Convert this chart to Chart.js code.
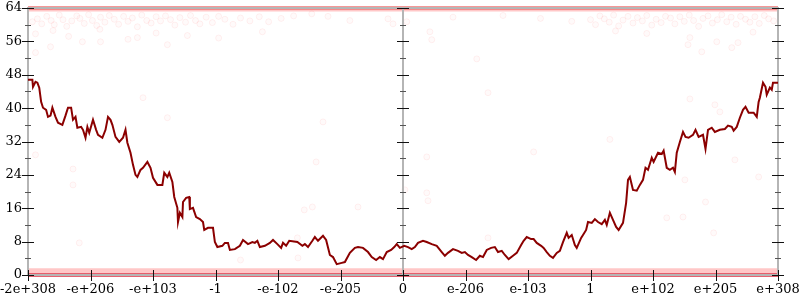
<!DOCTYPE html>
<html><head><meta charset="utf-8">
<script src="https://cdn.jsdelivr.net/npm/chart.js@4/dist/chart.umd.min.js"></script>
<style>html,body{margin:0;padding:0;background:#fff}#wrap{width:800px;height:300px}</style>
</head><body><div id="wrap"><canvas id="c" width="800" height="300"></canvas></div>
<script>
// ---- data ----
const xTickValues = [-6,-5,-4,-3,-2,-1,0,1,2,3,4,5,6];
const xTickLabels = ['-2e+308','-e+206','-e+103','-1','-e-102','-e-205','0','e-206','e-103','1','e+102','e+205','e+308'];
const yMajorTicks = [0,8,16,24,32,40,48,56,64];
const yMinorTicks = [4,12,20,28,36,44,52,60];

const lineX = [-6.00,-5.93,-5.92,-5.88,-5.85,-5.82,-5.79,-5.76,-5.71,-5.68,-5.64,-5.61,-5.56,-5.52,-5.45,-5.40,-5.36,-5.31,-5.28,-5.24,
 -5.21,-5.15,-5.12,-5.08,-5.05,-5.02,-4.96,-4.91,-4.88,-4.81,-4.76,-4.72,-4.68,-4.65,-4.60,-4.54,-4.48,-4.44,-4.41,-4.36,
 -4.32,-4.28,-4.25,-4.20,-4.16,-4.09,-4.04,-4.00,-3.93,-3.85,-3.82,-3.77,-3.74,-3.69,-3.66,-3.61,-3.60,-3.57,-3.53,-3.52,
 -3.47,-3.42,-3.41,-3.36,-3.31,-3.25,-3.20,-3.18,-3.12,-3.04,-3.01,-2.97,-2.89,-2.85,-2.80,-2.77,-2.69,-2.61,-2.56,-2.48,
 -2.41,-2.37,-2.33,-2.29,-2.21,-2.13,-2.08,-2.01,-1.95,-1.92,-1.87,-1.82,-1.69,-1.61,-1.57,-1.52,-1.45,-1.41,-1.36,-1.28,
 -1.23,-1.17,-1.12,-1.06,-0.98,-0.93,-0.85,-0.77,-0.72,-0.64,-0.56,-0.50,-0.43,-0.37,-0.32,-0.26,-0.19,-0.14,-0.10,-0.05,
 0.02,0.08,0.14,0.19,0.24,0.32,0.38,0.46,0.54,0.62,0.67,0.72,0.80,0.88,0.94,0.99,1.04,1.10,1.17,1.23,
 1.28,1.34,1.41,1.47,1.52,1.58,1.63,1.69,1.76,1.82,1.89,1.93,1.98,2.05,2.09,2.14,2.21,2.25,2.30,2.35,
 2.40,2.46,2.51,2.56,2.62,2.65,2.70,2.75,2.78,2.85,2.88,2.93,2.96,3.02,3.07,3.12,3.18,3.23,3.26,3.31,
 3.36,3.41,3.45,3.52,3.57,3.60,3.63,3.68,3.74,3.79,3.84,3.88,3.92,3.98,4.01,4.08,4.14,4.17,4.22,4.27,
 4.32,4.35,4.38,4.43,4.48,4.52,4.57,4.64,4.68,4.73,4.80,4.84,4.88,4.94,4.99,5.07,5.15,5.20,5.26,5.29,
 5.34,5.39,5.44,5.48,5.53,5.61,5.66,5.69,5.71,5.76,5.80,5.82,5.87,5.90,5.92,6.00];
const lineY = [46.8,46.8,45.1,46.3,46.1,44.9,41.5,40.1,39.6,37.9,38.2,40.1,37.9,36.5,36.0,38.2,40.1,40.1,37.2,37.9,
 35.3,35.5,34.8,32.9,35.5,34.1,37.2,34.8,33.6,32.9,34.8,37.9,37.2,36.0,33.1,31.9,32.9,34.8,31.7,29.3,
 26.4,24.0,23.5,25.2,25.7,27.1,25.7,23.3,21.6,21.6,24.5,23.5,24.5,22.3,18.7,16.1,12.7,14.9,13.9,17.5,
 18.5,18.7,15.8,16.1,13.9,13.4,12.7,10.8,11.3,11.3,7.9,6.7,7.0,7.7,7.7,6.0,6.2,7.0,8.4,7.4,
 7.9,7.7,8.2,6.7,7.0,7.7,8.4,7.4,6.5,7.7,7.0,8.2,7.9,7.0,7.4,6.7,8.2,9.1,8.2,9.4,
 8.4,4.8,4.3,2.6,2.9,3.1,5.3,6.5,6.7,6.5,5.5,4.3,3.6,4.3,3.8,5.5,6.0,6.7,7.4,6.5,
 7.0,6.7,6.2,6.7,7.7,8.2,7.9,7.4,7.0,5.5,4.6,5.3,6.2,5.8,5.3,5.5,4.8,4.3,3.6,4.6,
 4.3,6.0,6.5,6.7,5.5,5.8,4.8,3.8,4.6,5.3,7.2,8.2,9.1,8.6,8.6,7.7,7.0,6.5,5.5,4.6,
 4.1,5.3,5.8,7.9,10.1,8.9,9.6,7.2,6.5,8.9,9.6,10.8,12.7,12.5,13.4,12.7,12.2,13.2,12.0,14.9,
 13.2,11.5,10.8,12.5,17.3,22.8,23.5,20.4,20.2,21.6,22.8,25.7,25.2,28.1,27.1,29.3,29.0,29.8,25.7,25.2,
 25.7,24.7,29.3,31.9,34.3,33.1,32.9,33.6,34.8,33.1,33.6,30.2,34.8,35.3,34.3,34.8,35.0,35.8,35.5,34.6,
 35.5,37.7,39.6,40.3,38.9,38.9,37.9,41.5,42.5,46.1,45.1,43.2,44.9,44.4,46.1,46.1];

// faint sample points
const sampleX = [-5.93,-5.85,-5.78,-5.70,-5.63,-5.58,-5.50,-5.44,-5.38,-5.30,-5.22,-5.17,-5.10,-5.03,-4.97,-4.90,-4.84,-4.77,-4.70,-4.62,
 -4.55,-4.47,-4.40,-4.33,-4.25,-4.18,-4.10,-4.03,-3.95,-3.88,-3.80,-3.72,-3.65,-3.57,-3.48,-3.40,-3.32,-3.25,-3.15,-3.05,
 -2.95,-2.85,-2.72,-2.60,-2.45,-2.30,-2.15,-1.95,-1.75,-5.88,-5.60,-5.35,-4.85,-4.40,-3.95,-3.45,-2.95,-2.25,-5.13,-4.84,
 -5.64,-5.88,-3.77,-4.25,-1.46,-0.85,-0.24,-0.16,0.06,0.43,0.46,1.18,1.36,-1.20,0.80,1.60,2.20,2.70,
 3.00,3.08,3.15,3.22,3.30,3.37,3.45,3.52,3.60,3.68,3.75,3.83,3.90,3.98,4.05,4.13,4.20,4.28,4.35,4.43,
 4.50,4.58,4.65,4.73,4.80,4.88,4.95,5.03,5.10,5.18,5.25,5.33,5.40,5.48,5.55,5.63,5.70,5.78,5.85,5.93,
 4.56,4.78,5.02,5.36,5.26,4.59,3.40,3.90,5.60,
 -4.16,-3.77,-5.88,-5.28,-5.28,-1.28,-1.39,-1.58,-1.45,-0.72,-1.69,-1.68,-2.60,-5.18,0.38,0.38,0.40,2.09,3.31,1.36,
 0.03,4.99,5.07,5.31,4.51,5.69,4.59,4.84,4.22,4.48,4.97];
const sampleY = [60.7,61.4,60.2,62.0,61.0,60.0,62.3,61.2,59.6,60.9,62.1,61.5,60.3,62.4,61.0,59.8,61.8,60.6,62.2,61.3,
 60.1,62.0,60.8,61.6,59.5,62.3,61.0,60.4,61.9,60.9,62.1,61.2,59.9,61.7,60.6,62.2,61.0,60.2,61.8,60.5,
 62.0,61.3,60.1,61.6,60.9,61.9,60.7,61.5,62.1,57.8,58.6,57.2,58.9,56.5,58.0,57.4,56.8,58.3,55.9,55.9,
 54.7,53.3,55.2,56.9,62.6,61.0,61.4,60.2,60.7,58.3,56.4,51.8,43.7,62.0,61.8,62.2,61.5,60.8,
 61.2,60.0,62.1,61.4,60.6,62.3,59.7,61.1,62.0,60.4,61.7,60.9,62.2,59.9,61.3,60.5,62.0,61.6,60.2,61.9,
 60.8,62.3,61.0,59.6,61.5,62.1,60.4,61.2,62.4,60.7,61.8,60.1,62.0,61.3,60.6,61.9,60.3,62.2,61.4,60.9,
 55.2,53.5,55.9,55.7,54.5,56.9,58.5,57.9,58.2,
 42.5,37.7,28.8,25.4,21.6,36.7,27.1,15.6,16.3,16.3,8.9,4.1,3.6,7.7,28.3,19.7,17.8,29.5,32.5,8.9,
 20.4,40.8,39.1,27.6,22.8,23.5,42.2,17.5,13.7,13.9,10.1];

// dense sample bands (drawn as overlapping strokes)
const bandX = [-6, 6];
const topBandY = [64, 64];
const topBand2Y = [63.4, 63.4];
const bottomBandY = [0, 0];
const bottomBand2Y = [1.0, 1.0];

// ---- chart ----
const pts = (xs, ys) => xs.map((x, i) => ({x, y: ys[i]}));
Chart.defaults.font.family = '"DejaVu Serif"';
Chart.defaults.font.size = 13;
Chart.defaults.color = '#000';

const frameTicks = {
  id: 'frameTicks',
  beforeDatasetDraw(chart, args) {
    if (args.index !== 0) return;
    const {ctx, scales: {x, y}} = chart;
    const xl = x.getPixelForValue(xTickValues[0]);
    const xc = x.getPixelForValue(0);
    const xr = x.getPixelForValue(xTickValues[xTickValues.length - 1]);
    const yt = y.getPixelForValue(yMajorTicks[yMajorTicks.length - 1]);
    const yb = y.getPixelForValue(0);
    ctx.save();
    ctx.strokeStyle = '#b5b5b5';
    ctx.lineWidth = 2;
    ctx.beginPath();
    ctx.moveTo(xl - 1, yt); ctx.lineTo(xr + 1, yt);
    ctx.moveTo(xl - 1, yb); ctx.lineTo(xr + 1, yb);
    [xl, xc, xr].forEach(px => { ctx.moveTo(px, yt); ctx.lineTo(px, yb); });
    ctx.stroke();
    ctx.restore();
  },
  afterDraw(chart) {
    const {ctx, scales: {x, y}} = chart;
    const xs = [x.getPixelForValue(xTickValues[0]), x.getPixelForValue(0), x.getPixelForValue(xTickValues[xTickValues.length - 1])];
    const yb = y.getPixelForValue(0);
    ctx.save();
    ctx.lineWidth = 1;
    ctx.strokeStyle = '#111';
    ctx.beginPath();
    yMajorTicks.forEach(v => {
      const py = Math.round(y.getPixelForValue(v)) + 0.5;
      xs.forEach(px => { ctx.moveTo(px - 6, py); ctx.lineTo(px + 6, py); });
    });
    xTickValues.forEach(v => {
      const px = Math.round(x.getPixelForValue(v)) + 0.5;
      ctx.moveTo(px, yb - 5); ctx.lineTo(px, yb + 6);
    });
    ctx.stroke();
    ctx.strokeStyle = '#555';
    ctx.beginPath();
    yMinorTicks.forEach(v => {
      const py = Math.round(y.getPixelForValue(v)) + 0.5;
      xs.forEach(px => { ctx.moveTo(px - 3, py); ctx.lineTo(px + 3, py); });
    });
    ctx.stroke();
    ctx.restore();
  }
};

new Chart(document.getElementById('c'), {
  type: 'scatter',
  data: {
    datasets: [
      {data: pts(lineX, lineY), showLine: true, borderColor: '#8b0000', borderWidth: 2, pointRadius: 0, tension: 0, order: 0},
      {data: pts(bandX, topBandY), showLine: true, borderColor: 'rgba(235,25,25,0.9)', borderWidth: 3, pointRadius: 0, clip: false, order: 1},
      {data: pts(bandX, topBand2Y), showLine: true, borderColor: 'rgba(255,0,0,0.22)', borderWidth: 2, pointRadius: 0, clip: false, order: 1},
      {data: pts(bandX, bottomBandY), showLine: true, borderColor: 'rgba(220,30,50,0.7)', borderWidth: 4, pointRadius: 0, clip: false, order: 1},
      {data: pts(bandX, bottomBand2Y), showLine: true, borderColor: 'rgba(255,0,0,0.22)', borderWidth: 5, pointRadius: 0, clip: false, order: 1},
      {data: pts(sampleX, sampleY), showLine: false, pointRadius: 3, pointBorderWidth: 1,
       pointBackgroundColor: 'rgba(255,0,0,0.02)', pointBorderColor: 'rgba(255,0,0,0.06)', order: 2}
    ]
  },
  options: {
    responsive: false,
    animation: false,
    devicePixelRatio: 1,
    events: [],
    layout: {padding: {top: 8, right: 22, left: 0, bottom: 0}},
    plugins: {legend: {display: false}, tooltip: {enabled: false}},
    scales: {
      x: {
        type: 'linear', min: -6, max: 6,
        afterBuildTicks: s => { s.ticks = xTickValues.map(v => ({value: v})); },
        afterFit: s => { s.height = 25; s.paddingLeft = 0; s.paddingRight = 0; },
        ticks: {autoSkip: false, maxRotation: 0, padding: 7,
                callback: v => xTickLabels[xTickValues.indexOf(v)]},
        grid: {display: false, drawTicks: false},
        border: {display: false}
      },
      y: {
        type: 'linear', min: 0, max: 64,
        afterBuildTicks: s => { s.ticks = yMajorTicks.map(v => ({value: v})); },
        afterFit: s => { s.width = 28; s.paddingTop = 0; s.paddingBottom = 0; },
        ticks: {padding: 6, autoSkip: false},
        grid: {display: false, drawTicks: false},
        border: {display: false}
      }
    }
  },
  plugins: [frameTicks]
});
</script>
</body></html>
